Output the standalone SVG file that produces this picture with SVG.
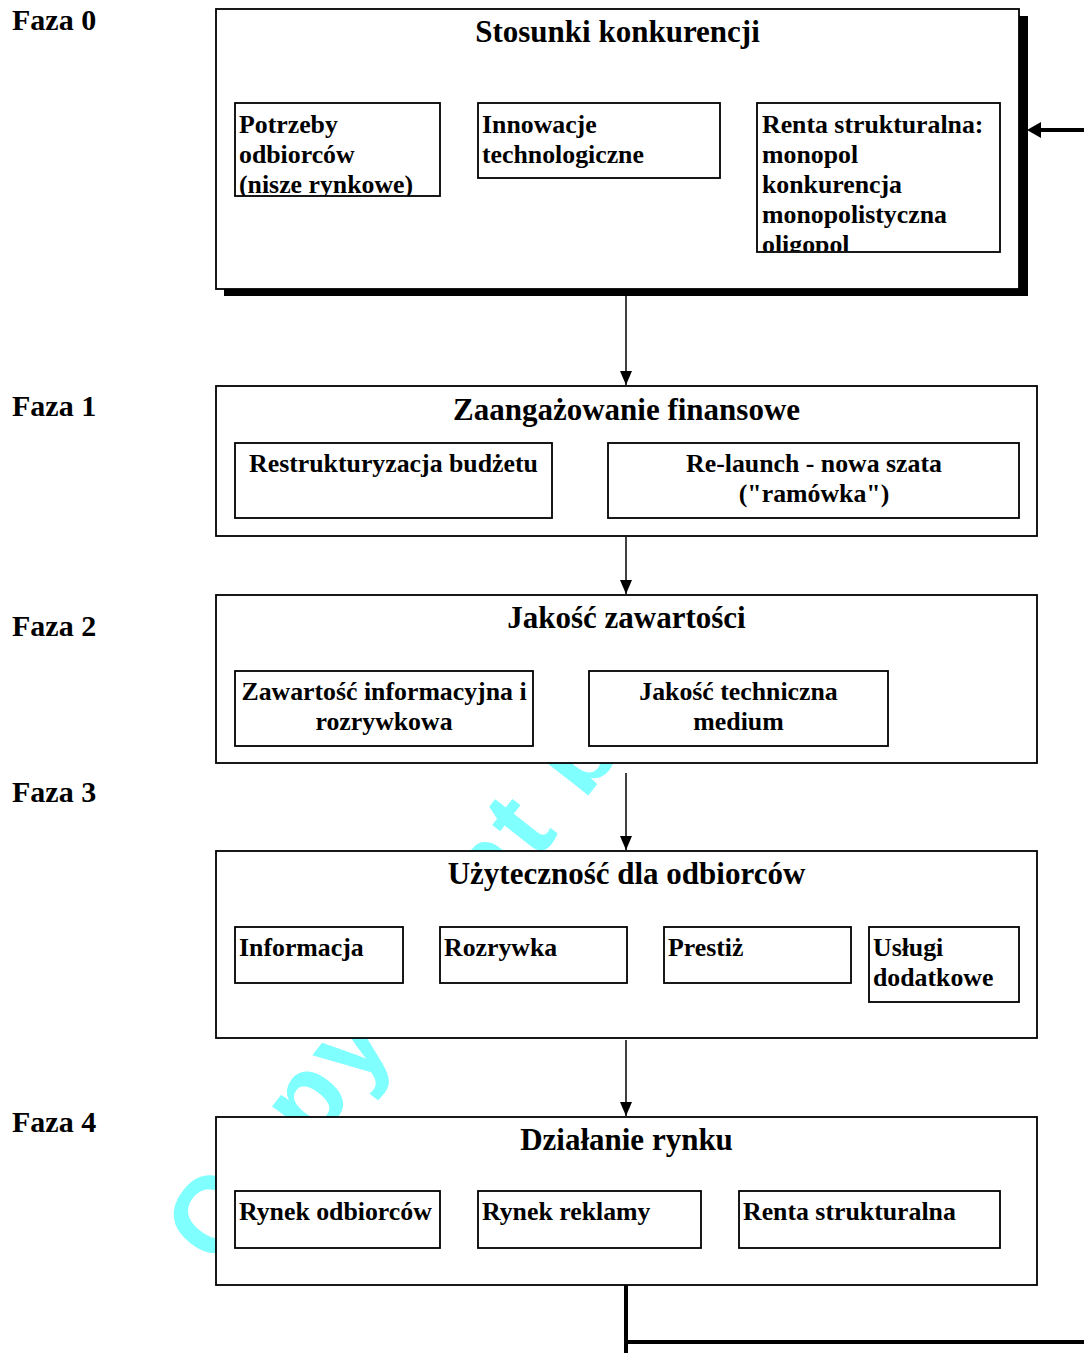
<svg xmlns="http://www.w3.org/2000/svg" width="1084" height="1353" viewBox="0 0 1084 1353">
<style>
.bg{fill:#ffffff}
.box{fill:#ffffff;stroke:#000;stroke-width:1.8}
.sub{fill:#ffffff;stroke:#000;stroke-width:1.8}
.faza{font-family:"Liberation Serif","Times New Roman",serif;font-weight:bold;font-size:30px;fill:#000}
.title{font-family:"Liberation Serif","Times New Roman",serif;font-weight:bold;font-size:31px;fill:#000;text-anchor:middle}
.t{font-family:"Liberation Serif","Times New Roman",serif;font-weight:bold;font-size:25.8px;fill:#000}
.tc{text-anchor:middle}
.wm{font-family:"Liberation Sans",Arial,sans-serif;font-weight:bold;font-size:109px;letter-spacing:5px;fill:#80ffff}
.ln{stroke:#000;stroke-width:1.5;fill:none}
.thick{stroke:#000;stroke-width:4;fill:none}
</style>
<defs>
<marker id="ah" markerWidth="14" markerHeight="12" refX="14" refY="6" orient="auto" markerUnits="userSpaceOnUse" viewBox="0 0 14 12">
<path d="M0,0 L14,6 L0,12 Z" fill="#000"/>
</marker>
<clipPath id="c0a"><rect x="235" y="103" width="205" height="93"/></clipPath>
<clipPath id="c0c"><rect x="757" y="103" width="243" height="148"/></clipPath>
</defs>
<rect class="bg" x="0" y="0" width="1084" height="1353"/>

<text class="wm" x="217.5" y="1270" transform="rotate(-52 217.5 1270)">Copyright by</text>

<g id="labels">
<text class="faza" x="12" y="30">Faza 0</text>
<text class="faza" x="12" y="416">Faza 1</text>
<text class="faza" x="12" y="636">Faza 2</text>
<text class="faza" x="12" y="802">Faza 3</text>
<text class="faza" x="12" y="1132">Faza 4</text>
</g>

<g id="faza0">
<rect x="224" y="16" width="804" height="280" fill="#000"/>
<rect class="box" x="216" y="9" width="803" height="280"/>
<text class="title" x="617.5" y="42">Stosunki konkurencji</text>
<g id="potrzeby">
<rect class="sub" x="235" y="103" width="205" height="93"/>
<g clip-path="url(#c0a)">
<text class="t" x="239" y="133">Potrzeby</text>
<text class="t" x="239" y="163">odbiorców</text>
<text class="t" x="239" y="193">(nisze rynkowe)</text>
</g>
</g>
<g id="innowacje">
<rect class="sub" x="478" y="103" width="242" height="75"/>
<text class="t" x="482" y="133">Innowacje</text>
<text class="t" x="482" y="163">technologiczne</text>
</g>
<g id="renta0">
<rect class="sub" x="757" y="103" width="243" height="149"/>
<g clip-path="url(#c0c)">
<text class="t" x="762" y="133">Renta strukturalna:</text>
<text class="t" x="762" y="163">monopol</text>
<text class="t" x="762" y="193">konkurencja</text>
<text class="t" x="762" y="223">monopolistyczna</text>
<text class="t" x="762" y="253">oligopol</text>
</g>
</g>
</g>

<g id="faza1">
<rect class="box" x="216" y="386" width="821" height="150"/>
<text class="title" x="626.5" y="420">Zaangażowanie finansowe</text>
<g id="restrukturyzacja">
<rect class="sub" x="235" y="443" width="317" height="75"/>
<text class="t tc" x="393.5" y="472">Restrukturyzacja budżetu</text>
</g>
<g id="relaunch">
<rect class="sub" x="608" y="443" width="411" height="75"/>
<text class="t tc" x="814" y="472">Re-launch - nowa szata</text>
<text class="t tc" x="814" y="502">("ramówka")</text>
</g>
</g>

<g id="faza2">
<rect class="box" x="216" y="595" width="821" height="168"/>
<text class="title" x="626.5" y="628">Jakość zawartości</text>
<g id="zawartosc">
<rect class="sub" x="235" y="671" width="298" height="75"/>
<text class="t tc" x="384" y="700">Zawartość informacyjna i</text>
<text class="t tc" x="384" y="730">rozrywkowa</text>
</g>
<g id="jakosc-techniczna">
<rect class="sub" x="589" y="671" width="299" height="75"/>
<text class="t tc" x="738.5" y="700">Jakość techniczna</text>
<text class="t tc" x="738.5" y="730">medium</text>
</g>
</g>

<g id="faza3">
<rect class="box" x="216" y="851" width="821" height="187"/>
<text class="title" x="626.5" y="884">Użyteczność dla odbiorców</text>
<g id="informacja">
<rect class="sub" x="235" y="927" width="168" height="56"/>
<text class="t" x="239" y="956">Informacja</text>
</g>
<g id="rozrywka">
<rect class="sub" x="440" y="927" width="187" height="56"/>
<text class="t" x="444" y="956">Rozrywka</text>
</g>
<g id="prestiz">
<rect class="sub" x="664" y="927" width="187" height="56"/>
<text class="t" x="668" y="956">Prestiż</text>
</g>
<g id="uslugi">
<rect class="sub" x="869" y="927" width="150" height="75"/>
<text class="t" x="873" y="956">Usługi</text>
<text class="t" x="873" y="986">dodatkowe</text>
</g>
</g>

<g id="faza4">
<rect class="box" x="216" y="1117" width="821" height="168"/>
<text class="title" x="626.5" y="1150">Działanie rynku</text>
<g id="rynek-odbiorcow">
<rect class="sub" x="235" y="1191" width="205" height="57"/>
<text class="t" x="239" y="1220">Rynek odbiorców</text>
</g>
<g id="rynek-reklamy">
<rect class="sub" x="478" y="1191" width="223" height="57"/>
<text class="t" x="482" y="1220">Rynek reklamy</text>
</g>
<g id="renta4">
<rect class="sub" x="739" y="1191" width="261" height="57"/>
<text class="t" x="743" y="1220">Renta strukturalna</text>
</g>
</g>

<g id="connectors">
<line class="ln" x1="626" y1="296" x2="626" y2="385" marker-end="url(#ah)"/>
<line class="ln" x1="626" y1="537" x2="626" y2="594" marker-end="url(#ah)"/>
<line class="ln" x1="626" y1="773" x2="626" y2="850" marker-end="url(#ah)"/>
<line class="ln" x1="626" y1="1040" x2="626" y2="1116" marker-end="url(#ah)"/>
<line class="thick" x1="626" y1="1285" x2="626" y2="1353"/>
<line class="thick" x1="626" y1="1342" x2="1084" y2="1342"/>
<line class="thick" x1="1084" y1="130" x2="1038" y2="130"/>
<path d="M1027,130 L1041,122 L1041,138 Z" fill="#000"/>
</g>
</svg>
